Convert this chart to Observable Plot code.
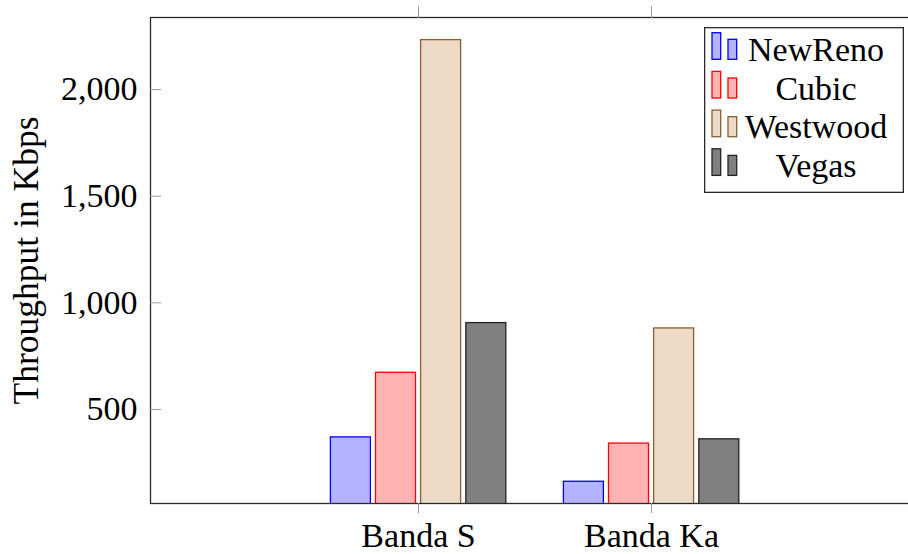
<!DOCTYPE html>
<html>
<head>
<meta charset="utf-8">
<script src="https://cdn.jsdelivr.net/npm/d3@7"></script>
<script src="https://cdn.jsdelivr.net/npm/@observablehq/plot@0.6"></script>
<style>
  html, body { margin: 0; padding: 0; background: white; overflow: hidden; }
  #wrap { position: relative; width: 908px; height: 554px; }
  #legend { position: absolute; left: 704px; top: 27px; }
</style>
</head>
<body>
<div id="wrap"></div>
<script>
// ---- data ----
const categories = ["Banda S", "Banda Ka"];
const series = ["NewReno", "Cubic", "Westwood", "Vegas"];
const newReno = [369, 161];
const cubic = [672, 340];
const westwood = [2232, 880];
const vegas = [905, 360];
const yTicks = [500, 1000, 1500, 2000];
const yLabel = "Throughput in Kbps";

const values = [newReno, cubic, westwood, vegas];
const fills = ["#b3b3ff", "#ffb3b3", "#ecd9c6", "#808080"];
const strokes = ["#0000ff", "#ff0000", "#8a5f35", "#222222"];
const barOffsets = [-67.6, -22.5, 22.6, 67.8];
const font = "'Liberation Serif', 'DejaVu Serif', serif";

const rows = [];
series.forEach((s, i) => categories.forEach((c, j) => rows.push({series: s, cat: c, value: values[i][j]})));

const barMarks = series.map((s, i) => Plot.rectY(rows.filter(d => d.series === s), {
  x1: "cat", x2: "cat", y1: 0, y2: "value",
  insetLeft: -20, insetRight: -20, dx: barOffsets[i],
  fill: fills[i], stroke: strokes[i], strokeWidth: 1.3, clip: true
}));

const chart = Plot.plot({
  width: 908,
  height: 554,
  marginLeft: 150,
  marginRight: -11,
  marginTop: 17,
  marginBottom: 51,
  style: {fontFamily: font, fontSize: "34px", background: "white", color: "black"},
  x: {type: "point", domain: categories, padding: 1.148},
  y: {domain: [59, 2338]},
  marks: [
    ...barMarks,
    Plot.frame({stroke: "#2a2a2a", strokeWidth: 1.3}),
    Plot.axisY({ticks: yTicks, tickSize: -11, tickPadding: 24, tickFormat: d3.format(","), stroke: "#9a9a9a", fill: "black", label: null}),
    Plot.axisX({anchor: "bottom", tickSize: 10, tickPadding: 9, stroke: "#9a9a9a", fill: "black", label: null}),
    Plot.axisX({anchor: "top", tickSize: 12, tickFormat: () => "", stroke: "#9a9a9a", label: null}),
    Plot.text([yLabel], {frameAnchor: "left", rotate: -90, dx: -124, textAnchor: "middle", lineAnchor: "middle", fill: "black", fontSize: 35.5})
  ]
});
const wrap = document.getElementById("wrap");
wrap.appendChild(chart);

// ---- legend ----
const lw = 200, lh = 166, pitch = 38.7;
const leg = d3.select(wrap).append("svg")
  .attr("id", "legend").attr("width", lw).attr("height", lh)
  .style("font-family", font).style("font-size", "34px");
leg.append("rect").attr("x", 0.65).attr("y", 0.65).attr("width", lw - 1.3).attr("height", lh - 1.3)
  .attr("fill", "white").attr("stroke", "#2a2a2a").attr("stroke-width", 1.3);
series.forEach((s, i) => {
  const g = leg.append("g").attr("transform", `translate(0,${i * pitch})`);
  g.append("rect").attr("x", 8).attr("y", 5.7).attr("width", 8.7).attr("height", 26.6)
    .attr("fill", fills[i]).attr("stroke", strokes[i]).attr("stroke-width", 1.3);
  g.append("rect").attr("x", 24).attr("y", 12.3).attr("width", 8.7).attr("height", 20)
    .attr("fill", fills[i]).attr("stroke", strokes[i]).attr("stroke-width", 1.3);
  g.append("text").attr("x", 112).attr("y", 34).attr("text-anchor", "middle").text(s);
});
</script>
</body>
</html>
